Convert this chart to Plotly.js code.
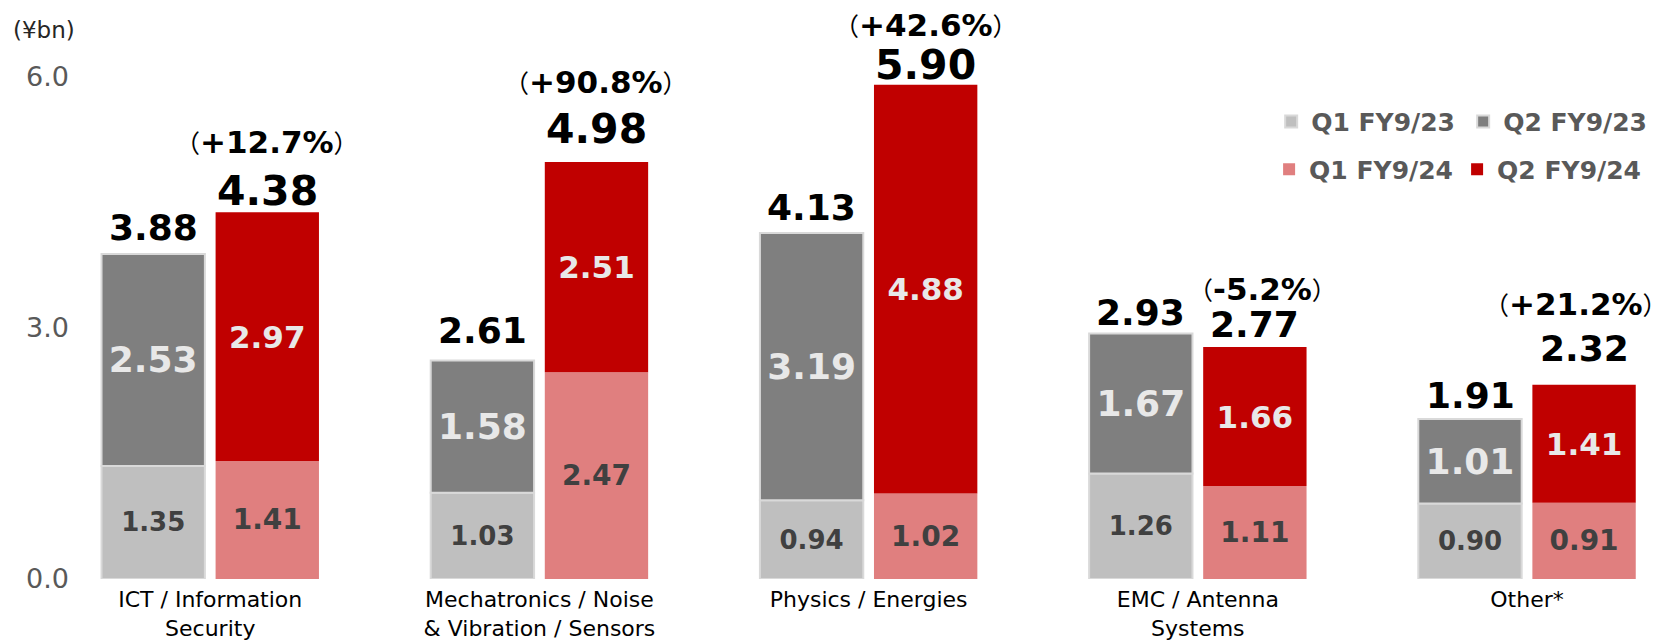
<!DOCTYPE html>
<html>
<head>
<meta charset="utf-8">
<script src="https://cdn.plot.ly/plotly-3.0.1.min.js"></script>
<style>html,body{margin:0;padding:0;background:#fff;}#chart{width:1667px;height:642px;}</style>
</head>
<body>
<div id="chart"></div>
<script>
// ---- data ----
const categories = ['ICT / Information<br>Security', 'Mechatronics / Noise<br>& Vibration / Sensors', 'Physics / Energies', 'EMC / Antenna<br>Systems', 'Other*'];
const q1FY23 = [1.35, 1.03, 0.94, 1.26, 0.90];
const q2FY23 = [2.53, 1.58, 3.19, 1.67, 1.01];
const q1FY24 = [1.41, 2.47, 1.02, 1.11, 0.91];
const q2FY24 = [2.97, 2.51, 4.88, 1.66, 1.41];
const yoyPct = [12.7, 90.8, 42.6, -5.2, 21.2];
const seriesNames = ['Q1 FY9/23', 'Q2 FY9/23', 'Q1 FY9/24', 'Q2 FY9/24'];
const yTickVals = [0, 3, 6];
const unitLabel = '(¥bn)';

// ---- style ----
const FONT = 'DejaVu Sans, Verdana, sans-serif';
const CJK = 'DejaVu Sans, Noto Sans CJK JP, sans-serif';
const BAR_W = 0.314, GAP = 0.0325;
const OFF23 = -GAP / 2 - BAR_W, OFF24 = GAP / 2;
const colors = ['#bfbfbf', '#7f7f7f', '#e07f7f', '#c00000'];
const totalSize23 = [36, 36, 36, 36, 36];
const totalSize24 = [41, 41, 41, 36, 36];
const shift23 = [27, 30, 26, 21, 24];
const shift24 = [21, 33, 20, 23, 36];
const pctShift = [70, 80, 60, 58, 81];
const pctXShift = [0, 0, 0, 8, -8];

const idx = categories.map((c, i) => i);
const fmt = v => v.toFixed(2);

function barTrace(name, y, base, offset, color, lineColor, txtColor, txtSize, legend) {
  const t = {
    type: 'bar', name: name, x: categories, y: y,
    offset: offset, width: BAR_W,
    marker: {color: color, line: {color: lineColor || color, width: lineColor ? 2 : 0}},
    text: y.map(fmt), textposition: 'inside', insidetextanchor: 'middle', textangle: 0,
    constraintext: 'none',
    textfont: {family: FONT, size: txtSize, color: txtColor, weight: 'bold'},
    hoverinfo: 'skip', legend: legend
  };
  if (base) t.base = base;
  return t;
}

const traces = [
  barTrace(seriesNames[0], q1FY23, null, OFF23, colors[0], '#d9d9d9', '#404040', 26, 'legend'),
  barTrace(seriesNames[1], q2FY23, q1FY23, OFF23, colors[1], '#d9d9d9', '#e8e8e8', 36, 'legend'),
  barTrace(seriesNames[2], q1FY24, null, OFF24, colors[2], null, '#404040', 28, 'legend2'),
  barTrace(seriesNames[3], q2FY24, q1FY24, OFF24, colors[3], null, '#e8e8e8', 31, 'legend2')
];

const annotations = [];
idx.forEach(i => {
  const t23 = q1FY23[i] + q2FY23[i];
  const t24 = q1FY24[i] + q2FY24[i];
  annotations.push({x: i + OFF23 + BAR_W / 2, y: t23, xref: 'x', yref: 'y', text: '<b>' + fmt(t23) + '</b>',
    showarrow: false, yanchor: 'middle', yshift: shift23[i], font: {family: FONT, size: totalSize23[i], color: '#000'}});
  annotations.push({x: i + OFF24 + BAR_W / 2, y: t24, xref: 'x', yref: 'y', text: '<b>' + fmt(t24) + '</b>',
    showarrow: false, yanchor: 'middle', yshift: shift24[i], font: {family: FONT, size: totalSize24[i], color: '#000'}});
  const p = yoyPct[i];
  annotations.push({x: i + OFF24 + BAR_W / 2, y: t24, xref: 'x', yref: 'y',
    text: '<span style="font-size:25px">（</span><b>' + (p >= 0 ? '+' : '-') + Math.abs(p).toFixed(1) +
          '%</b><span style="font-size:25px">）</span>',
    showarrow: false, yanchor: 'middle', yshift: pctShift[i], xshift: pctXShift[i],
    font: {family: CJK, size: 31, color: '#000'}});
});
annotations.push({x: -0.037, y: 1.0, xref: 'paper', yref: 'paper', xanchor: 'left', yanchor: 'middle',
  text: unitLabel, showarrow: false, font: {family: FONT, size: 23, color: '#262626'}});

const legendFont = {family: FONT, size: 25, color: '#595959', weight: 'bold'};
const layout = {
  width: 1667, height: 642,
  margin: {l: 70, r: 5, t: 30, b: 63},
  paper_bgcolor: '#fff', plot_bgcolor: '#fff',
  barmode: 'overlay',
  showlegend: true,
  legend: {orientation: 'h', x: 0.7545, y: 0.833, xanchor: 'left', yanchor: 'middle', font: legendFont,
    entrywidth: 147, traceorder: 'normal', bgcolor: 'rgba(0,0,0,0)'},
  legend2: {orientation: 'h', x: 0.7532, y: 0.746, xanchor: 'left', yanchor: 'middle', font: legendFont,
    entrywidth: 143, traceorder: 'normal', bgcolor: 'rgba(0,0,0,0)'},
  xaxis: {type: 'category', range: [-0.426, 4.41], showline: false, showgrid: false, zeroline: false,
    ticks: '', ticklabelstandoff: 5, tickfont: {family: FONT, size: 22, color: '#000'}, fixedrange: true},
  yaxis: {range: [0, 6.555], tickvals: yTickVals, tickformat: '.1f', showline: false, showgrid: false, zeroline: false,
    ticks: '', tickfont: {family: FONT, size: 27, color: '#595959'}, fixedrange: true},
  annotations: annotations
};

Plotly.newPlot('chart', traces, layout, {staticPlot: true, displayModeBar: false});
</script>
</body>
</html>
